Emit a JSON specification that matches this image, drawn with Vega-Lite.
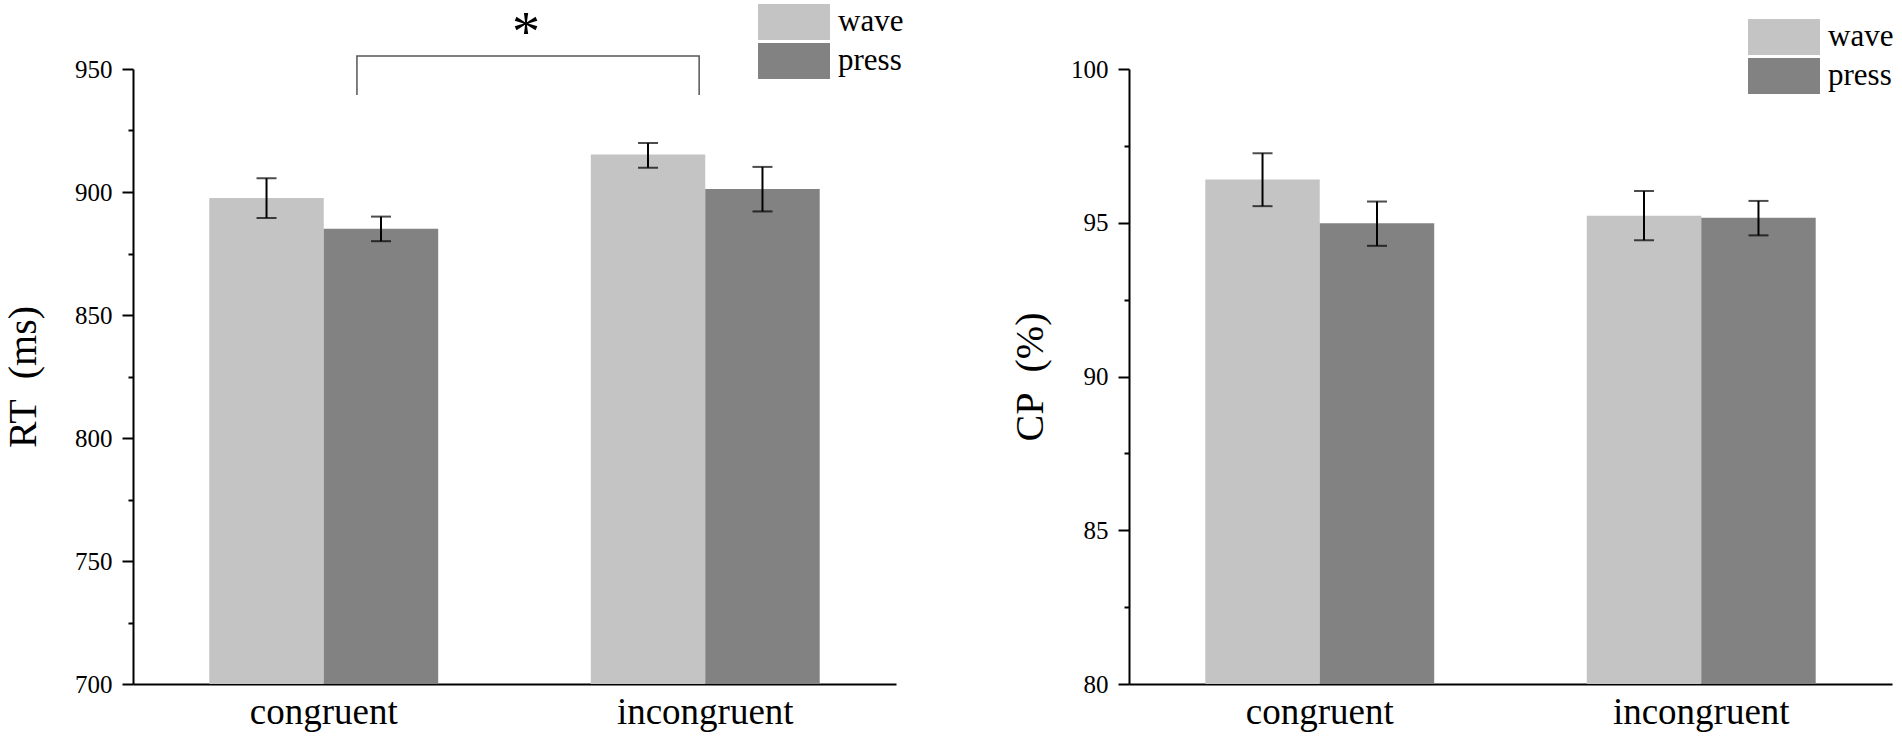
{
  "$schema": "https://vega.github.io/schema/vega-lite/v6.json",
  "padding": {"left": 3, "top": 4, "right": 5, "bottom": 5},
  "background": "white",
  "bounds": "flush",
  "spacing": 233,
  "datasets": {
    "rt": [
      {"cond": "congruent", "resp": "wave", "mean": 897.6, "lo": 889.4, "hi": 905.6},
      {"cond": "congruent", "resp": "press", "mean": 885.1, "lo": 880.0, "hi": 890.0},
      {"cond": "incongruent", "resp": "wave", "mean": 915.2, "lo": 909.9, "hi": 919.9},
      {"cond": "incongruent", "resp": "press", "mean": 901.2, "lo": 892.1, "hi": 910.2}
    ],
    "cp": [
      {"cond": "congruent", "resp": "wave", "mean": 96.41, "lo": 95.54, "hi": 97.26},
      {"cond": "congruent", "resp": "press", "mean": 94.98, "lo": 94.25, "hi": 95.69},
      {"cond": "incongruent", "resp": "wave", "mean": 95.23, "lo": 94.43, "hi": 96.03},
      {"cond": "incongruent", "resp": "press", "mean": 95.16, "lo": 94.59, "hi": 95.71}
    ],
    "bracket": [
      {"step": 1, "gx": 0.587, "val": 939.4},
      {"step": 2, "gx": 0.587, "val": 955.3},
      {"step": 3, "gx": 1.484, "val": 955.3},
      {"step": 4, "gx": 1.484, "val": 939.4}
    ],
    "star": [{"gx": 1.03, "val": 969, "label": "*"}]
  },
  "hconcat": [
    {
      "width": 763,
      "height": 615,
      "layer": [
        {
          "data": {"name": "rt"},
          "encoding": {
            "x": {
              "field": "cond", "type": "nominal", "sort": ["congruent", "incongruent"],
              "scale": {"paddingInner": 0.4, "paddingOuter": 0.2},
              "axis": {"title": null, "labelAngle": 0, "ticks": false, "labelFont": "Liberation Serif", "labelFontSize": 37, "labelPadding": 10}
            },
            "xOffset": {"field": "resp", "type": "nominal", "sort": ["wave", "press"], "scale": {"paddingInner": 0, "paddingOuter": 0}}
          },
          "layer": [
            {
              "mark": {"type": "bar", "clip": true},
              "encoding": {
                "y": {
                  "field": "mean", "type": "quantitative",
                  "scale": {"domain": [700, 950], "zero": false, "nice": false},
                  "axis": {
                    "title": "RT\u00a0\u00a0(ms)",
                    "titleFont": "Liberation Serif",
                    "titleFontSize": 40,
                    "titleFontWeight": "normal",
                    "titlePadding": 31,
                    "labelFont": "Liberation Serif",
                    "labelFontSize": 25,
                    "values": [700, 725, 750, 775, 800, 825, 850, 875, 900, 925, 950],
                    "labelExpr": "datum.value % 50 === 0 ? datum.label : ''",
                    "tickSize": {"condition": {"test": "datum.value % 50 === 0", "value": 11}, "value": 5}
                  }
                },
                "color": {
                  "field": "resp", "type": "nominal",
                  "scale": {"domain": ["wave", "press"], "range": ["#c4c4c4", "#828282"]},
                  "legend": {"orient": "none", "legendX": 643, "legendY": -65}
                }
              }
            },
            {
              "mark": {"type": "rule", "color": "black", "strokeWidth": 2},
              "encoding": {
                "y": {"field": "lo", "type": "quantitative"},
                "y2": {"field": "hi"}
              }
            },
            {
              "mark": {"type": "tick", "color": "black", "size": 20, "thickness": 2},
              "encoding": {"y": {"field": "lo", "type": "quantitative"}}
            },
            {
              "mark": {"type": "tick", "color": "black", "size": 20, "thickness": 2},
              "encoding": {"y": {"field": "hi", "type": "quantitative"}}
            }
          ]
        },
        {
          "encoding": {
            "x": {"field": "gx", "type": "quantitative", "scale": {"domain": [0, 2], "nice": false, "zero": false}, "axis": null},
            "y": {"field": "val", "type": "quantitative"}
          },
          "layer": [
            {
              "data": {"name": "bracket"},
              "mark": {"type": "line", "color": "#555555", "strokeWidth": 1.5},
              "encoding": {"order": {"field": "step"}}
            },
            {
              "data": {"name": "star"},
              "mark": {"type": "text", "font": "Liberation Serif", "fontSize": 56, "baseline": "middle", "dy": 12},
              "encoding": {"text": {"field": "label"}}
            }
          ]
        }
      ],
      "resolve": {"scale": {"x": "independent"}}
    },
    {
      "width": 763,
      "height": 615,
      "data": {"name": "cp"},
      "encoding": {
        "x": {
          "field": "cond", "type": "nominal", "sort": ["congruent", "incongruent"],
          "scale": {"paddingInner": 0.4, "paddingOuter": 0.2},
          "axis": {"title": null, "labelAngle": 0, "ticks": false, "labelFont": "Liberation Serif", "labelFontSize": 37, "labelPadding": 10}
        },
        "xOffset": {"field": "resp", "type": "nominal", "sort": ["wave", "press"], "scale": {"paddingInner": 0, "paddingOuter": 0}}
      },
      "layer": [
        {
          "mark": {"type": "bar", "clip": true},
          "encoding": {
            "y": {
              "field": "mean", "type": "quantitative",
              "scale": {"domain": [80, 100], "zero": false, "nice": false},
              "axis": {
                "title": "CP\u00a0\u00a0(%)",
                "titleFont": "Liberation Serif",
                "titleFontSize": 40,
                "titleFontWeight": "normal",
                "titlePadding": 20,
                "labelFont": "Liberation Serif",
                "labelFontSize": 25,
                "values": [80, 82.5, 85, 87.5, 90, 92.5, 95, 97.5, 100],
                "labelExpr": "datum.value % 5 === 0 ? datum.label : ''",
                "tickSize": {"condition": {"test": "datum.value % 5 === 0", "value": 11}, "value": 5}
              }
            },
            "color": {
              "field": "resp", "type": "nominal",
              "scale": {"domain": ["wave", "press"], "range": ["#c4c4c4", "#828282"]},
              "legend": {"orient": "none", "legendX": 637, "legendY": -50}
            }
          }
        },
        {
          "mark": {"type": "rule", "color": "black", "strokeWidth": 2},
          "encoding": {
            "y": {"field": "lo", "type": "quantitative"},
            "y2": {"field": "hi"}
          }
        },
        {
          "mark": {"type": "tick", "color": "black", "size": 20, "thickness": 2},
          "encoding": {"y": {"field": "lo", "type": "quantitative"}}
        },
        {
          "mark": {"type": "tick", "color": "black", "size": 20, "thickness": 2},
          "encoding": {"y": {"field": "hi", "type": "quantitative"}}
        }
      ]
    }
  ],
  "resolve": {"scale": {"color": "independent", "y": "independent"}, "legend": {"color": "independent"}},
  "config": {
    "font": "Liberation Serif",
    "view": {"stroke": null},
    "axis": {
      "labelColor": "black",
      "titleColor": "black",
      "domainColor": "black",
      "domainWidth": 2,
      "tickColor": "black",
      "tickWidth": 2,
      "labelPadding": 10,
      "grid": false
    },
    "legend": {
      "title": null,
      "labelFont": "Liberation Serif",
      "labelFontSize": 31,
      "labelColor": "black",
      "labelOffset": 26,
      "symbolType": "M-2,-1H2V1H-2Z",
      "symbolSize": 1296,
      "symbolStrokeWidth": 0,
      "symbolOpacity": 1,
      "rowPadding": 3,
      "padding": 0
    }
  }
}
